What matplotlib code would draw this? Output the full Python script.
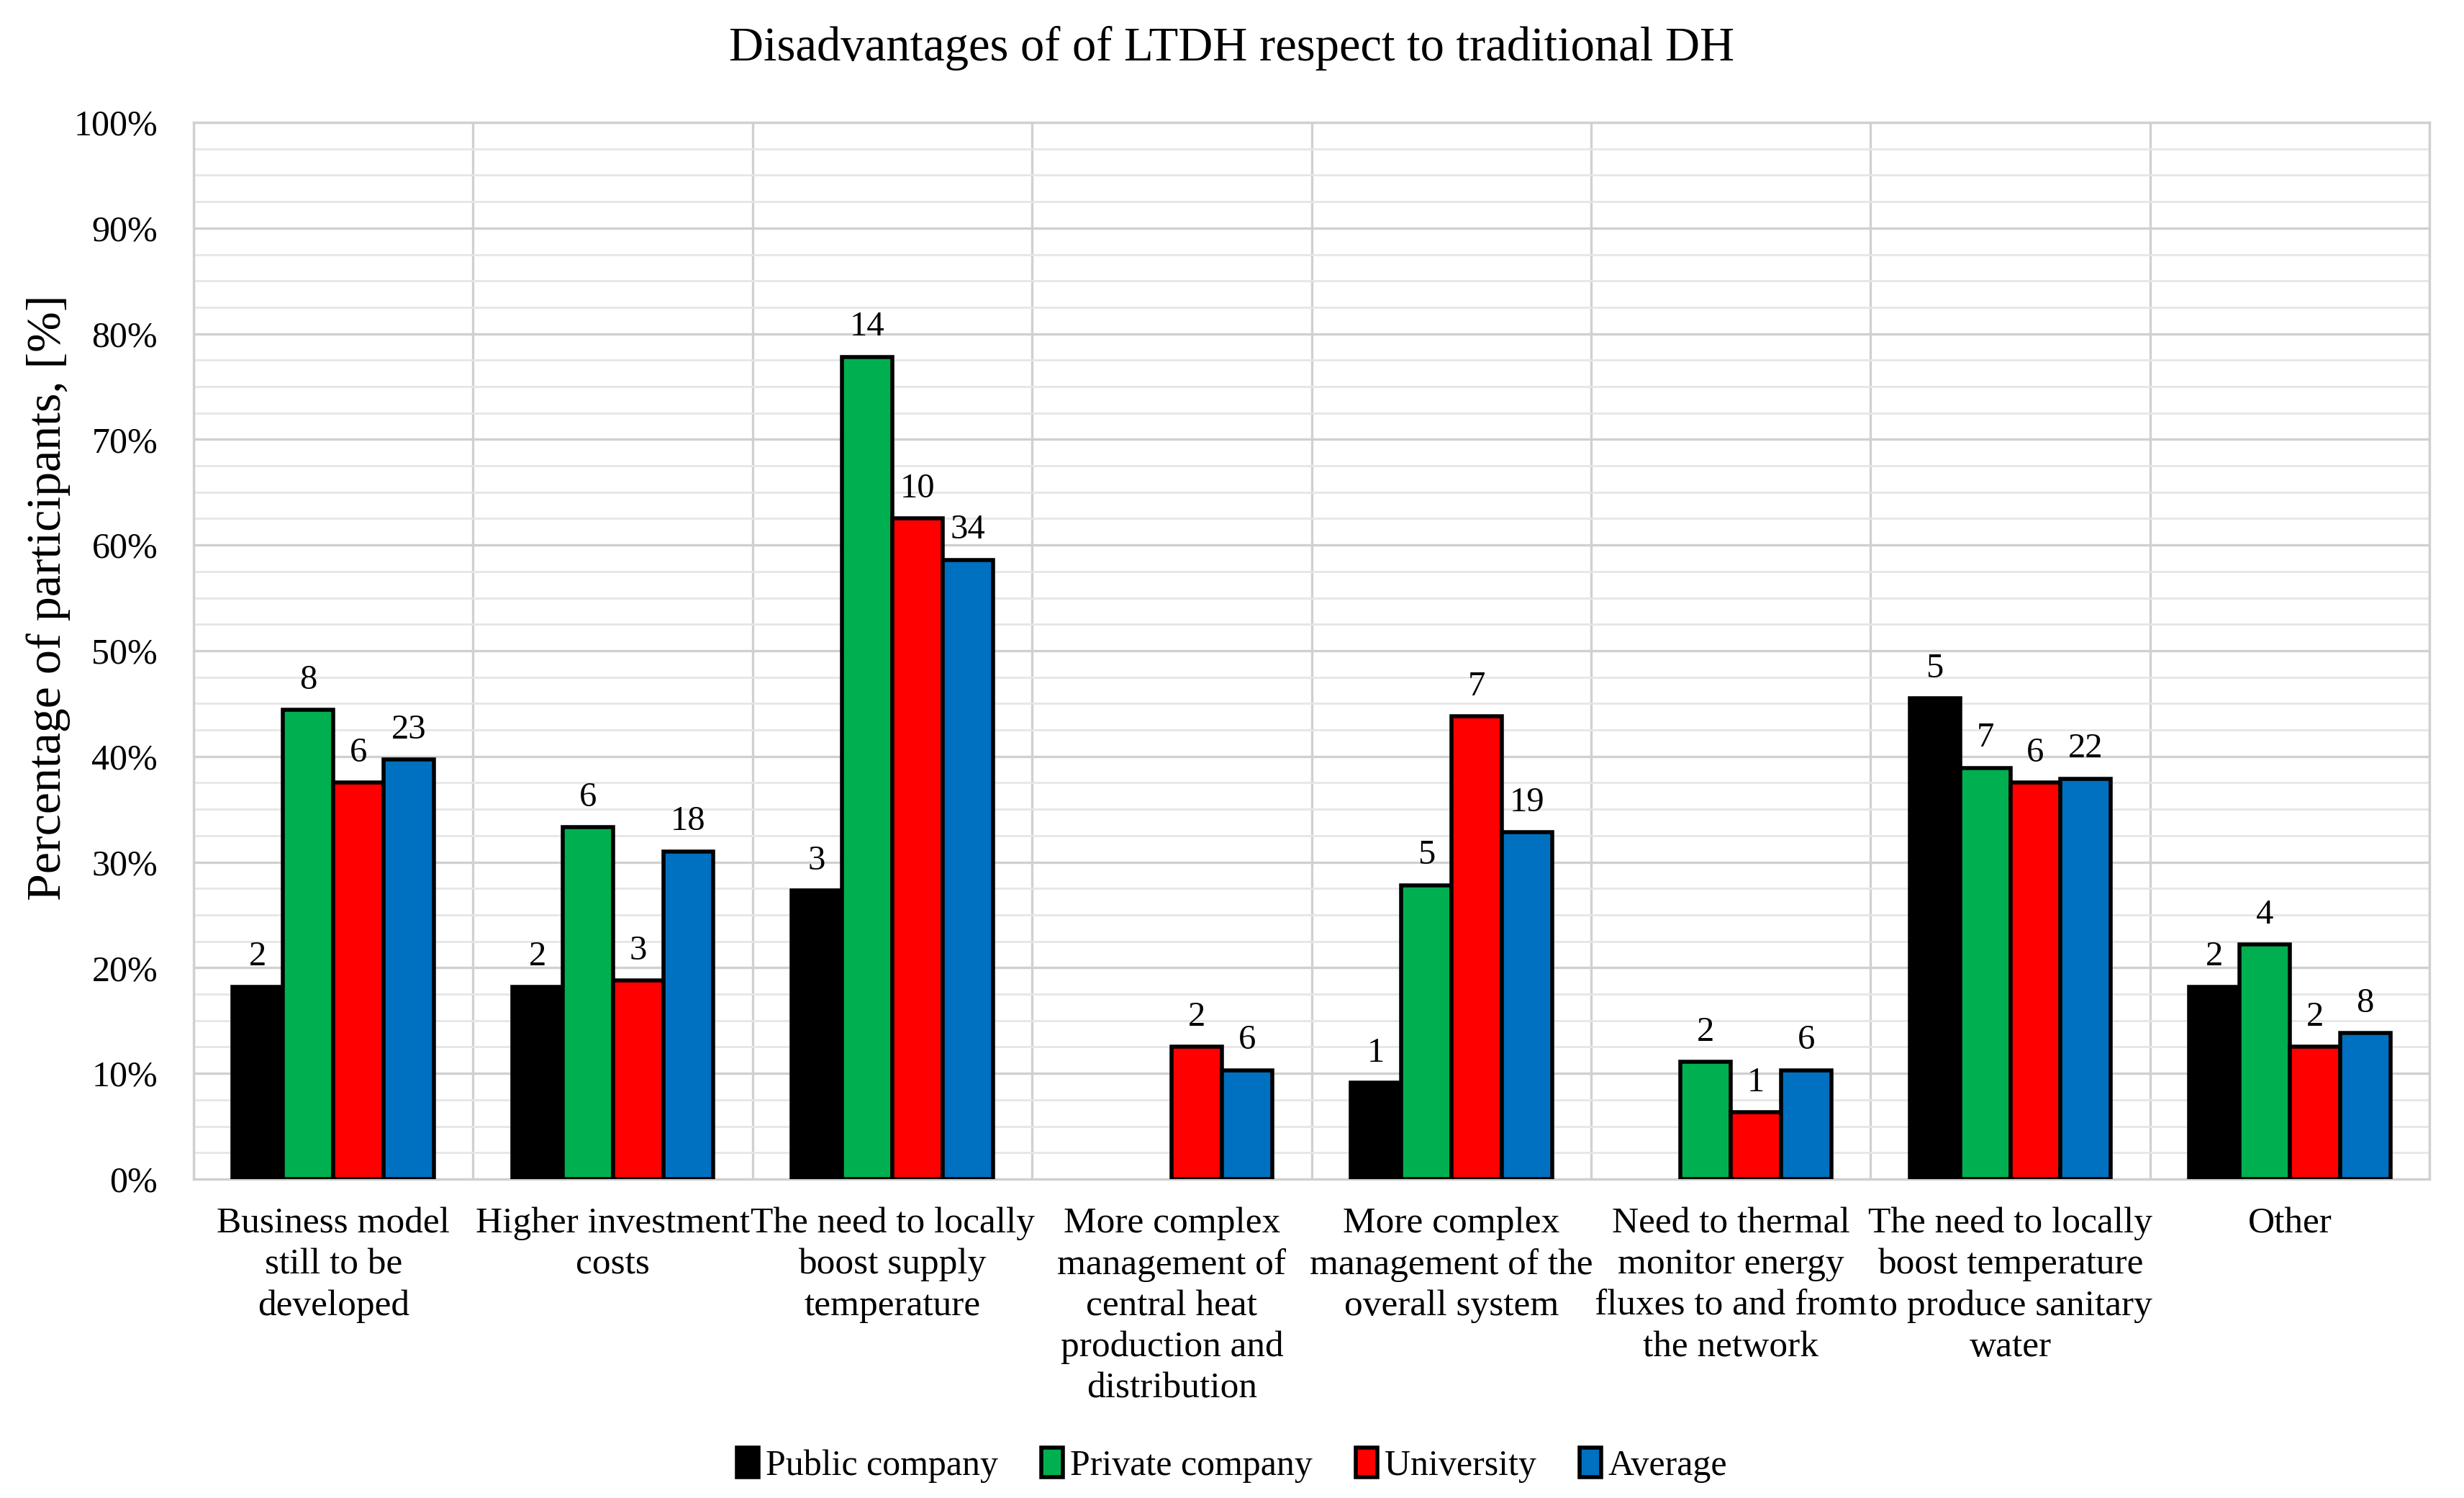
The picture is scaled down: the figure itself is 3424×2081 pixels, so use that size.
import matplotlib
matplotlib.use('Agg')
import numpy as np
import matplotlib.pyplot as plt
from matplotlib.ticker import MultipleLocator, FuncFormatter

plt.rcParams['font.family'] = ['Liberation Serif', 'DejaVu Serif']

categories = ['Business model\nstill to be\ndeveloped',
              'Higher investment\ncosts',
              'The need to locally\nboost supply\ntemperature',
              'More complex\nmanagement of\ncentral heat\nproduction and\ndistribution',
              'More complex\nmanagement of the\noverall system',
              'Need to thermal\nmonitor energy\nfluxes to and from\nthe network',
              'The need to locally\nboost temperature\nto produce sanitary\nwater',
              'Other']

series = ['Public company', 'Private company', 'University', 'Average']
colors = ['#000000', '#00B050', '#FF0000', '#0070C0']

# percentages
public_pct = [18.2, 18.2, 27.3, 0.0, 9.1, 0.0, 45.5, 18.2]
private_pct = [44.4, 33.3, 77.8, 0.0, 27.8, 11.1, 38.9, 22.2]
university_pct = [37.5, 18.8, 62.5, 12.5, 43.8, 6.3, 37.5, 12.5]
average_pct = [39.7, 31.0, 58.6, 10.3, 32.8, 10.3, 37.9, 13.8]

# participant counts shown above the bars
public_n = [2, 2, 3, 0, 1, 0, 5, 2]
private_n = [8, 6, 14, 0, 5, 2, 7, 4]
university_n = [6, 3, 10, 2, 7, 1, 6, 2]
average_n = [23, 18, 34, 6, 19, 6, 22, 8]

pcts = [public_pct, private_pct, university_pct, average_pct]
counts = [public_n, private_n, university_n, average_n]

fig = plt.figure(figsize=(17.12, 10.405), dpi=200)
ax = fig.add_axes([0.0786, 0.2129, 0.9074, 0.7054])

x = np.arange(len(categories))
w = 0.18
for i in range(4):
    pos = x + (i - 1.5) * w
    vals = np.array(pcts[i])
    # empty categories get no bar at all
    vals = np.where(vals > 0, vals, np.nan)
    bars = ax.bar(pos, vals, width=w, color=colors[i], edgecolor='black',
                  linewidth=2, label=series[i], zorder=3)
    for b, v, n in zip(bars, vals, counts[i]):
        if n == 0:
            continue
        ax.annotate(str(n), (b.get_x() + b.get_width() / 2, v),
                    xytext=(0, 7), textcoords='offset points',
                    ha='center', va='bottom', fontsize=17.5)

ax.set_xlim(-0.5, len(categories) - 0.5)
ax.set_ylim(0, 100)
ax.yaxis.set_major_locator(MultipleLocator(10))
ax.yaxis.set_minor_locator(MultipleLocator(2.5))
ax.yaxis.set_major_formatter(FuncFormatter(lambda v, p: '%d%%' % v))
ax.set_xticks(x)
ax.set_xticklabels(categories, fontsize=18.5, va='top', linespacing=1.3)
ax.set_xticks(np.arange(len(categories) + 1) - 0.5, minor=True)
ax.tick_params(axis='both', which='both', length=0)
ax.tick_params(axis='x', pad=14)
ax.tick_params(axis='y', labelsize=18, pad=18)

ax.grid(axis='y', which='major', color='#d0d0d0', linewidth=1.2, zorder=0)
ax.grid(axis='y', which='minor', color='#e6e6e6', linewidth=1.0, zorder=0)
ax.grid(axis='x', which='minor', color='#d0d0d0', linewidth=1.2, zorder=0)
ax.set_axisbelow(True)
for s in ax.spines.values():
    s.set_color('#d0d0d0')
    s.set_linewidth(1.2)

ax.set_ylabel('Percentage of participants, [%]', fontsize=24.5)
ax.yaxis.set_label_coords(-0.055, 0.55)
fig.text(0.5, 0.968, 'Disadvantages of of LTDH respect to traditional DH',
         ha='center', va='center', fontsize=24)

fig.legend(loc='center', bbox_to_anchor=(0.5, 0.022), ncol=4, frameon=False,
           fontsize=18, handlelength=0.6, handleheight=0.9, handletextpad=0.2,
           columnspacing=1.2)

plt.savefig('out.png', format='png')
plt.close()
